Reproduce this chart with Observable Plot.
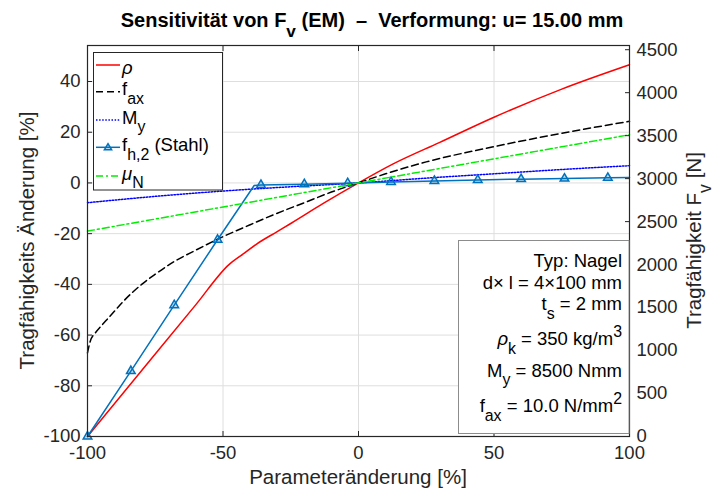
<!DOCTYPE html>
<html><head><meta charset="utf-8">
<script src="https://cdn.jsdelivr.net/npm/d3@7"></script>
<script src="https://cdn.jsdelivr.net/npm/@observablehq/plot@0.6"></script>
<style>body{margin:0;background:#fff} svg{display:block}</style>
</head><body><div id="chart"></div>
<script>
// ---- tick values ----
const xTicks = [-100, -50, 0, 50, 100];
const yTicks = [-100, -80, -60, -40, -20, 0, 20, 40];
const rightTicks = [0, 500, 1000, 1500, 2000, 2500, 3000, 3500, 4000, 4500];
const F0 = 2950; // Tragfähigkeit bei 0 % Änderung [N]

// ---- series (Parameteränderung [%] -> Tragfähigkeits Änderung [%]) ----
const rhoX = [-100, -80, -60, -47.9, -42, -37.6, -30, -25, -13, 0, 12.8, 30, 50, 75, 100];
const rhoY = [-100, -74, -48, -32.3, -27.6, -24.1, -19.2, -16.0, -8.1, 0, 7.5, 16.0, 25.9, 37.0, 46.6];

const faxX = [-100, -99, -97, -95, -92.5, -90, -86.6, -80, -75, -68, -60, -52, -40, -31, -20, -10, 0, 10, 25, 50, 75, 100];
const faxY = [-67, -62.5, -59, -56.5, -53.5, -50.5, -46.5, -40, -36, -31, -26.5, -22.2, -16.5, -12.4, -7.8, -3.6, 0, 3.6, 8.3, 14.3, 19.6, 24.3];

const myX = [-100, -75, -50, -25, 0, 25, 50, 75, 100];
const myY = [-7.8, -5.3, -3.2, -1.5, 0, 1.9, 3.6, 5.3, 6.8];

const fh2X = [-100, -84, -68, -52, -38.5, -36, -20, -4, 12, 28, 44, 60, 76, 92, 100];
const fh2Y = [-100, -74.2, -48.2, -22.4, -1.0, -0.8, -0.5, -0.1, 0.4, 0.8, 1.2, 1.5, 1.7, 2.0, 2.1];
const fh2MarkX = [-100, -84, -68, -52, -36, -20, -4, 12, 28, 44, 60, 76, 92];

const muX = [-100, 0, 100];
const muY = [-19, 0, 19];

const rows = (xs, ys) => xs.map((x, i) => ({x, y: ys[i]}));
const FONT = "'Liberation Sans', Arial, Helvetica, sans-serif";
const C = {rho: "#ff0000", fax: "#000000", my: "#0000ff", fh2: "#0072bd", mu: "#00ee00"};
const DASH = {fax: "7,4", my: "1.5,1.6", mu: "7,3,2,3"};

const toLeft = f => (f / F0 - 1) * 100;
const plain = d => String(d);

const svg = Plot.plot({
  width: 719, height: 491,
  marginLeft: 87, marginRight: 90, marginTop: 45, marginBottom: 55,
  style: {fontFamily: FONT, fontSize: "18.5px", color: "#262626", background: "#fff", overflow: "visible"},
  x: {domain: [-100, 100], label: null},
  y: {domain: [-100, 54.2], label: null},
  marks: [
    Plot.gridX(xTicks, {stroke: "#dedede", strokeOpacity: 1}),
    Plot.gridY(yTicks, {stroke: "#dedede", strokeOpacity: 1}),
    Plot.line(rows(rhoX, rhoY), {x: "x", y: "y", stroke: C.rho, strokeWidth: 1.5, curve: "monotone-x"}),
    Plot.line(rows(faxX, faxY), {x: "x", y: "y", stroke: C.fax, strokeWidth: 1.5, strokeDasharray: DASH.fax, curve: "monotone-x"}),
    Plot.line(rows(myX, myY), {x: "x", y: "y", stroke: C.my, strokeWidth: 1.5, strokeDasharray: DASH.my, curve: "monotone-x"}),
    Plot.line(rows(fh2X, fh2Y), {x: "x", y: "y", stroke: C.fh2, strokeWidth: 1.5}),
    Plot.dot(rows(fh2X, fh2Y).filter(d => fh2MarkX.includes(d.x)), {x: "x", y: "y", symbol: "triangle", r: 3.2, stroke: C.fh2, strokeWidth: 1.5, fill: C.fh2, fillOpacity: 0.25}),
    Plot.line(rows(muX, muY), {x: "x", y: "y", stroke: C.mu, strokeWidth: 1.5, strokeDasharray: DASH.mu}),
    Plot.frame({stroke: "#262626", strokeWidth: 1.2}),
    Plot.axisX(xTicks, {anchor: "bottom", tickSize: -5, tickPadding: 14, fontSize: 18.5, label: null, tickFormat: plain}),
    Plot.axisX(xTicks, {anchor: "top", tickSize: -5, tickFormat: () => "", label: null}),
    Plot.axisY(yTicks, {anchor: "left", tickSize: -5, tickPadding: 12, fontSize: 18.5, label: null, tickFormat: plain}),
    Plot.axisY(rightTicks.map(toLeft), {anchor: "right", tickSize: -5, tickPadding: 12, fontSize: 18.5, label: null,
      tickFormat: v => String(Math.round(F0 * (1 + v / 100)))})
  ]
});
document.getElementById("chart").append(svg);

// ---- rich text helper (sub/superscripts) ----
function rich(parent, x, y, parts, {anchor = "start", size = 18.5, weight = "normal", rotate = 0, fill = "#000"} = {}) {
  const t = parent.append("text").attr("x", x).attr("y", y).attr("text-anchor", anchor)
    .attr("font-family", FONT).attr("font-size", size).attr("font-weight", weight)
    .attr("fill", fill).style("white-space", "pre");
  if (rotate) t.attr("transform", `rotate(${rotate},${x},${y})`);
  let cur = 0;
  for (const p of parts) {
    const [s, kind] = Array.isArray(p) ? p : [p, null];
    let target = 0, fs = size, style = null;
    if (kind === "sub") { target = 0.48 * size; fs = 0.86 * size; }
    else if (kind === "sup") { target = -0.42 * size; fs = 0.86 * size; }
    else if (kind === "it") { style = "italic"; }
    const ts = t.append("tspan").text(s).attr("font-size", fs).attr("dy", target - cur);
    if (style) ts.attr("font-style", style);
    cur = target;
  }
  return t;
}

const root = d3.select(svg);
const g = root.append("g");

// title
rich(g, 372, 27, ["Sensitivität von F", ["v", "sub"], " (EM)  –  Verformung: u= 15.00 mm"], {anchor: "middle", size: 20, weight: "bold", fill: "#000"});
// axis labels
rich(g, 358, 484, ["Parameteränderung [%]"], {anchor: "middle", size: 20.5, fill: "#262626"});
rich(g, 34, 240.5, ["Tragfähigkeits Änderung [%]"], {anchor: "middle", size: 20.5, rotate: -90, fill: "#262626"});
rich(g, 701, 240.5, ["Tragfähigkeit F", ["v", "sub"], " [N]"], {anchor: "middle", size: 20.5, rotate: -90, fill: "#262626"});

// legend
const lg = g.append("g");
lg.append("rect").attr("x", 93.5).attr("y", 52.5).attr("width", 129).attr("height", 137.5)
  .attr("fill", "#fff").attr("stroke", "#262626").attr("stroke-width", 1);
const entries = [
  {y: 65, stroke: C.rho, dash: null, parts: [["ρ", "it"]], dy: 9},
  {y: 91.7, stroke: C.fax, dash: DASH.fax, parts: ["f", ["ax", "sub"]], dy: 3.5},
  {y: 120, stroke: C.my, dash: DASH.my, parts: ["M", ["y", "sub"]], dy: 3.5},
  {y: 147.3, stroke: C.fh2, dash: null, parts: ["f", ["h,2", "sub"], " (Stahl)"], dy: 3.5, marker: true},
  {y: 176, stroke: C.mu, dash: DASH.mu, parts: [["μ", "it"], ["N", "sub"]], dy: 3.5}
];
for (const e of entries) {
  const l = lg.append("line").attr("x1", 96).attr("x2", 120).attr("y1", e.y).attr("y2", e.y)
    .attr("stroke", e.stroke).attr("stroke-width", 1.5);
  if (e.dash) l.attr("stroke-dasharray", e.dash);
  if (e.marker) {
    const s = 3.6;
    lg.append("path").attr("d", `M108,${e.y - s}L${108 + s},${e.y + s * 0.7}L${108 - s},${e.y + s * 0.7}Z`)
      .attr("fill", C.fh2).attr("fill-opacity", 0.25).attr("stroke", C.fh2).attr("stroke-width", 1.5);
  }
  rich(lg, 122, e.y + e.dy, e.parts, {size: 18.5});
}

// info box
const ib = g.append("g");
ib.append("rect").attr("x", 458.5).attr("y", 240.5).attr("width", 170.5).attr("height", 193)
  .attr("fill", "#fff").attr("stroke", "#8c8c8c").attr("stroke-width", 1);
const infoLines = [
  {y: 266.5, parts: ["Typ: Nagel"]},
  {y: 288.5, parts: ["d× l = 4×100 mm"]},
  {y: 310, parts: ["t", ["s", "sub"], [" = 2 mm", null]]},
  {y: 345, parts: [["ρ", "it"], ["k", "sub"], " = 350 kg/m", ["3", "sup"]]},
  {y: 376.5, parts: ["M", ["y", "sub"], " = 8500 Nmm"]},
  {y: 412, parts: ["f", ["ax", "sub"], " = 10.0 N/mm", ["2", "sup"]]}
];
for (const li of infoLines) rich(ib, 622, li.y, li.parts, {anchor: "end", size: 18.5});
</script>
</body></html>
